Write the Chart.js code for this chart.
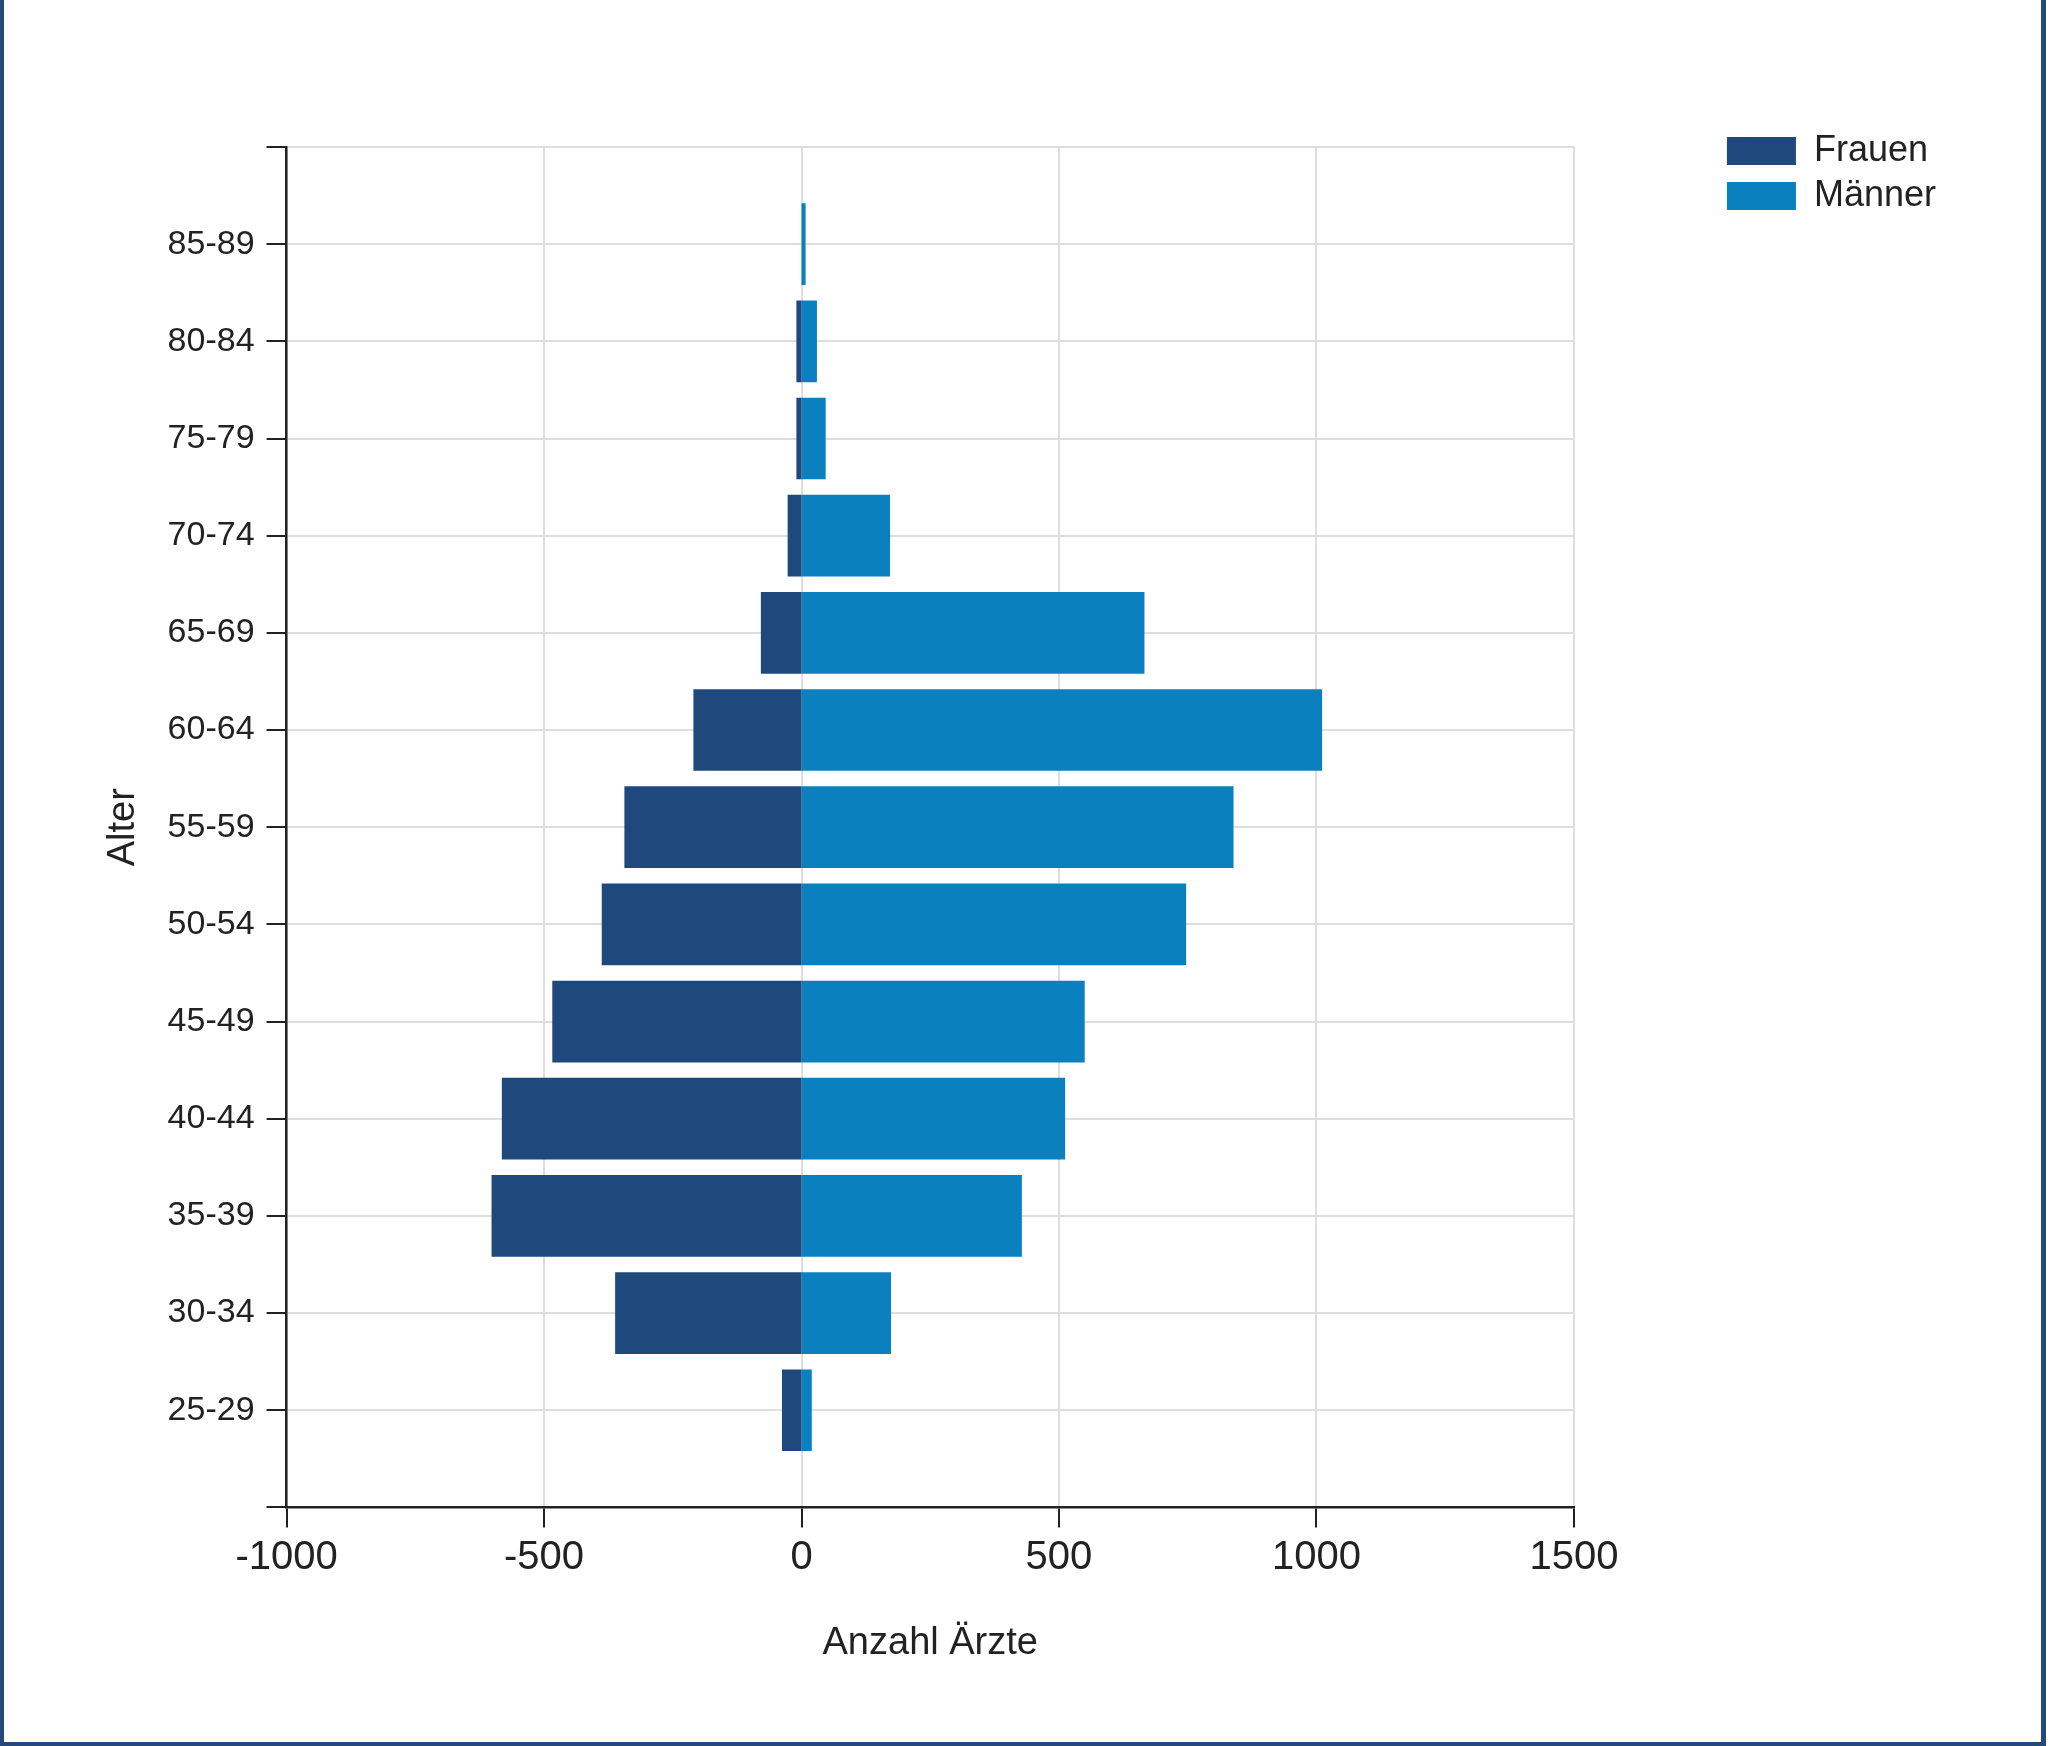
<!DOCTYPE html>
<html>
<head>
<meta charset="utf-8">
<script src="https://cdn.jsdelivr.net/npm/chart.js@4"></script>
<style>
  body { margin: 0; background: #fff; }
  #frame {
    position: absolute; left: 0; top: 0;
    width: 2037px; height: 1742px;
    border-left: 4px solid #24497c;
    border-right: 5px solid #24497c;
    border-bottom: 4px solid #24497c;
  }
</style>
</head>
<body>
<div id="frame"><canvas id="pyramid" width="2037" height="1742"></canvas></div>
<script>
// age groups, top to bottom as drawn
const ageGroups = ['85-89', '80-84', '75-79', '70-74', '65-69', '60-64', '55-59',
                   '50-54', '45-49', '40-44', '35-39', '30-34', '25-29'];
// women drawn to the left (negative), men to the right
const frauen = [0, -8, -8, -25, -77, -208, -342, -386, -482, -580, -600, -360, -36];
const maenner = [6, 28, 45, 170, 664, 1009, 837, 745, 548, 510, 426, 172, 18];
const xTickValues = [-1000, -500, 0, 500, 1000, 1500];

// empty slots above and below, the axis has room there
const yLabels = [''].concat(ageGroups, ['']);
const pad = arr => [null].concat(arr, [null]);

const fontFamily = "'Liberation Sans', Arial, sans-serif";
const ink = '#222222';
const gridGrey = '#dedede';

// overlap stacked bars by a pixel so no seam shows at zero, skip empty ones
const inflate = c => (c.raw ? 1 : 0);

const ctx = document.getElementById('pyramid').getContext('2d');
new Chart(ctx, {
    type: 'bar',
    data: {
        labels: yLabels,
        datasets: [
            {
                label: 'Frauen',
                data: pad(frauen),
                backgroundColor: '#1f487c',
                barPercentage: 0.82,
                categoryPercentage: 1.0,
                inflateAmount: inflate,
            },
            {
                label: 'Männer',
                data: pad(maenner),
                backgroundColor: '#0b80bf',
                barPercentage: 0.82,
                categoryPercentage: 1.0,
                inflateAmount: inflate,
            },
        ],
    },
    options: {
        indexAxis: 'y',
        responsive: false,
        animation: false,
        devicePixelRatio: 1,
        layout: {
            padding: { top: 124, left: 97, right: 95, bottom: 54 },
        },
        plugins: {
            tooltip: { enabled: false },
            legend: {
                position: 'right',
                align: 'start',
                labels: {
                    boxWidth: 69,
                    boxHeight: 28,
                    padding: 9,
                    color: ink,
                    font: { family: fontFamily, size: 36 },
                },
            },
        },
        scales: {
            x: {
                type: 'linear',
                stacked: true,
                min: -1000,
                max: 1500,
                afterBuildTicks: scale => {
                    scale.ticks = xTickValues.map(v => ({ value: v }));
                },
                ticks: {
                    callback: v => String(v),
                    color: ink,
                    padding: 7,
                    font: { family: fontFamily, size: 40 },
                },
                grid: {
                    color: gridGrey,
                    lineWidth: 2,
                    tickLength: 20,
                    tickColor: ink,
                    tickWidth: 2,
                },
                border: { color: ink, width: 2.5 },
                title: {
                    display: true,
                    text: 'Anzahl Ärzte',
                    color: ink,
                    font: { family: fontFamily, size: 38 },
                    padding: { top: 31, bottom: 22 },
                },
            },
            y: {
                type: 'category',
                stacked: true,
                offset: false,
                ticks: {
                    color: ink,
                    padding: 12,
                    autoSkip: false,
                    font: { family: fontFamily, size: 34 },
                },
                grid: {
                    offset: false,
                    color: gridGrey,
                    lineWidth: 2,
                    tickLength: 20,
                    tickColor: ink,
                    tickWidth: 2,
                },
                border: { color: ink, width: 2.5 },
                title: {
                    display: true,
                    text: 'Alter',
                    color: ink,
                    font: { family: fontFamily, size: 38 },
                    padding: { top: 0, bottom: 9 },
                },
            },
            // empty axes that only hold space around the plot
            xTop: {
                axis: 'x',
                type: 'linear',
                position: 'top',
                ticks: { display: false },
                grid: { display: false },
                border: { display: false },
                afterFit: scale => { scale.height = 23; },
            },
            yRight: {
                axis: 'y',
                type: 'linear',
                position: 'right',
                ticks: { display: false },
                grid: { display: false },
                border: { display: false },
                afterFit: scale => { scale.width = 144; },
            },
        },
    },
});
</script>
</body>
</html>
